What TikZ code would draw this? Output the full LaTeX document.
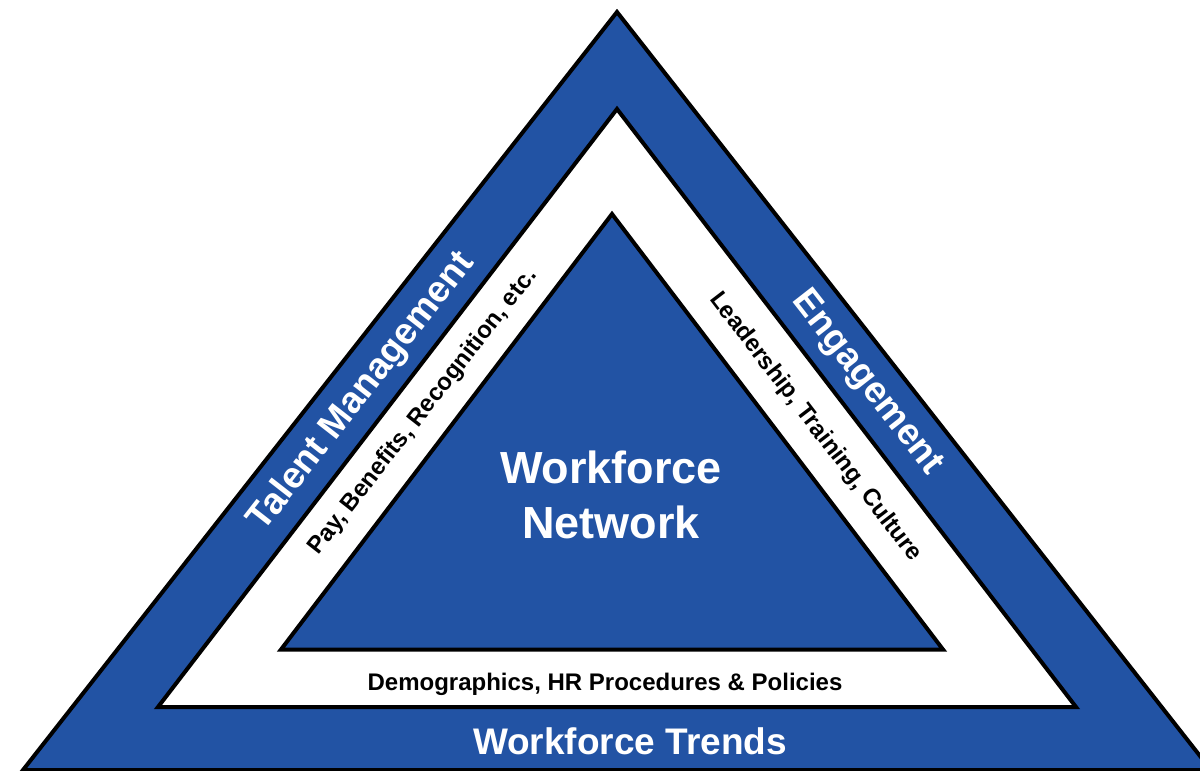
\documentclass[tikz,border=0pt]{standalone}
\usepackage{fontspec}
\setmainfont{Liberation Sans}
\usepackage{tikz}
\definecolor{bandBlue}{RGB}{34, 83, 164}

\begin{document}
\begin{tikzpicture}[
  x=1pt, y=-1pt,
  every node/.style={inner sep=0pt},
  edgeLine/.style={draw=black, line width=4pt, line join=miter},
  bigLabel/.style={text=white, font=\bfseries\fontsize{37}{40}\selectfont},
  smallLabel/.style={text=black, font=\bfseries\fontsize{24}{28}\selectfont}
]
\useasboundingbox (0,0) rectangle (1200,771);
\clip (0,0) rectangle (1200,771);

% corners of the three triangles
\coordinate (outerTop)   at (617,12);
\coordinate (outerLeft)  at (23,770);
\coordinate (outerRight) at (1211,770);
\coordinate (midTop)     at (617,109);
\coordinate (midLeft)    at (158,707);
\coordinate (midRight)   at (1076,707);
\coordinate (coreTop)    at (612,214);
\coordinate (coreLeft)   at (281,649.5);
\coordinate (coreRight)  at (943,649.5);

\filldraw[edgeLine, fill=bandBlue] (outerTop) -- (outerLeft) -- (outerRight) -- cycle;
\filldraw[edgeLine, fill=white] (midTop) -- (midLeft) -- (midRight) -- cycle;
\filldraw[edgeLine, fill=bandBlue] (coreTop) -- (coreLeft) -- (coreRight) -- cycle;

% outer band
\node[bigLabel, rotate=52] (talent) at (362,392) {Talent Management};
\node[bigLabel, rotate=-52] (engage) at (867,383) {Engagement};
\node[bigLabel, anchor=base] (trends) at (630,754) {Workforce Trends};

% white band
\node[smallLabel, rotate=52] (pay) at (423,412) {Pay, Benefits, Recognition, etc.};
\node[smallLabel, rotate=-52.5] (lead) at (815,427) {Leadership, Training, Culture};
\node[smallLabel, anchor=base] (demo) at (605,690) {Demographics, HR Procedures \& Policies};

% core
\node[text=white, align=center, font=\bfseries\fontsize{45}{55}\selectfont] (network) at (611,495) {Workforce\\Network};
\end{tikzpicture}
\end{document}
